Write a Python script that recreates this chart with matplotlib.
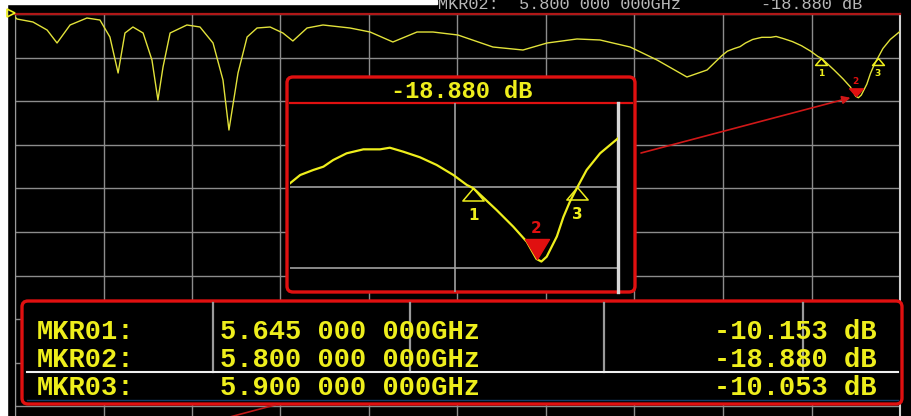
import numpy as np
import matplotlib
matplotlib.use("Agg")
import matplotlib.pyplot as plt
from matplotlib.patches import FancyBboxPatch, Rectangle

# S21 trace, 2-6 GHz sweep
freq_ghz = [2.000, 2.009, 2.081, 2.145, 2.190, 2.249, 2.325, 2.384, 2.429, 2.466,
            2.497, 2.533, 2.579, 2.619, 2.646, 2.669, 2.701, 2.777, 2.836, 2.895,
            2.940, 2.967, 3.008, 3.049, 3.094, 3.153, 3.211, 3.256, 3.320, 3.392,
            3.514, 3.605, 3.708, 3.817, 3.889, 4.002, 4.160, 4.296, 4.405, 4.540,
            4.644, 4.780, 4.902, 5.037, 5.128, 5.195, 5.220, 5.252, 5.277, 5.301,
            5.334, 5.375, 5.416, 5.440, 5.473, 5.514, 5.555, 5.596, 5.629, 5.645,
            5.702, 5.743, 5.776, 5.800, 5.812, 5.825, 5.850, 5.866, 5.882, 5.900,
            5.923, 5.956, 6.000]
trace_db = [-0.69, -1.15, -1.83, -3.67, -6.65, -2.52, -0.92, -1.38, -5.28, -13.53,
            -4.36, -2.98, -4.36, -10.55, -19.72, -12.16, -4.36, -2.52, -2.98, -6.65,
            -15.14, -26.61, -13.53, -5.28, -3.21, -2.98, -4.36, -6.19, -3.21, -2.52,
            -3.21, -4.13, -6.42, -4.13, -4.13, -4.82, -7.57, -8.26, -6.65, -5.73,
            -5.96, -7.57, -10.55, -14.45, -12.84, -9.54, -8.52, -7.90, -7.49, -6.67,
            -5.84, -5.35, -5.35, -5.15, -5.64, -6.33, -7.28, -8.52, -9.75, -10.153,
            -12.84, -14.90, -16.75, -18.88, -19.20, -18.60, -16.10, -13.70, -11.80, -10.053,
            -7.90, -5.84, -3.99]

# markers
marker_ids = [1, 2, 3]
marker_freq = [5.645, 5.800, 5.900]
marker_db = [-10.153, -18.880, -10.053]
active_marker = 2

W, H = 911, 416
YELLOW = "#eeee1c"
TRACE = "#e2e23a"
RED = "#e01010"
GRID = "#8c8c8c"
MONO = "Liberation Mono"

fig = plt.figure(figsize=(W / 100, H / 100), dpi=100, facecolor="black")


def box(x0, y0, x1, y1):
    # pixel box (top-left origin) -> figure fraction rect
    return [x0 / W, 1 - y1 / H, (x1 - x0) / W, (y1 - y0) / H]


def tri(up, w, h):
    # triangle marker with its tip on the data point
    s = 1 if up else -1
    return [(0, 0), (-w, -s * h), (w, -s * h), (0, 0)]


def freq_text(f):
    s = f"{f:.9f}"
    return f"{s[:5]} {s[5:8]} {s[8:]}GHz"


def draw_markers(a, scale, lab_size, lab_off):
    for n, f, d in zip(marker_ids, marker_freq, marker_db):
        if n == active_marker:
            a.plot(f, d, marker=tri(False, 0.6 if scale > 15 else 0.9, 1.0),
                   ms=scale * (1.6 if scale > 15 else 1.1), mfc=RED, mec=RED, zorder=5)
            a.annotate(str(n), (f, d), xytext=(0, lab_off[1]), textcoords="offset points",
                       ha="center", va="center", color=RED, fontsize=lab_size,
                       fontweight="bold", zorder=6)
        else:
            a.plot(f, d, marker=tri(True, 0.85, 1.0), ms=scale, mfc="none",
                   mec=YELLOW, mew=1.1, zorder=5)
            a.annotate(str(n), (f, d), xytext=(0, lab_off[0]), textcoords="offset points",
                       ha="center", va="center", color=YELLOW, fontsize=lab_size,
                       fontweight="bold", zorder=6)


# main screen: 10 dB/div, 0.4 GHz/div
ax = fig.add_axes(box(15, 14, 900, 416))
ax.set_facecolor("black")
ax.plot(freq_ghz, trace_db, color=TRACE, lw=1.0, zorder=3)
ax.set_xlim(2.0, 6.0)
ax.set_ylim(-92.2, 0)
ax.set_xticks(np.arange(2.0, 6.01, 0.4))
ax.set_yticks(np.arange(-90, 1, 10))
ax.grid(color=GRID, lw=1.0)
ax.tick_params(length=0, labelbottom=False, labelleft=False)
ax.spines["top"].set_color("#b01818")
ax.spines["top"].set_linewidth(1.6)
ax.spines["left"].set_color("#9a9a9a")
ax.spines["right"].set_color("#cfcfcf")
ax.spines["right"].set_linewidth(1.5)
ax.spines["bottom"].set_visible(False)
draw_markers(ax, 10, 6.5, (-11, 11))

# overlay in pixel coordinates for boxes and readouts
ov = fig.add_axes([0, 0, 1, 1], zorder=2)
ov.set_xlim(0, W)
ov.set_ylim(H, 0)
ov.axis("off")
ov.patch.set_alpha(0)

ov.add_patch(Rectangle((0, 0), 7, H, color="white", zorder=1))
ov.add_patch(Rectangle((0, 0), 437, 4, color="white", zorder=1))
ov.plot(11, 13, marker=">", ms=6, mfc="none", mec=YELLOW, mew=1.2)

ov.text(438, 9, "MKR02:  " + freq_text(marker_freq[1]), family=MONO, fontsize=12.2,
        color="#b8b8b8", va="baseline")
ov.text(862, 9, f"{marker_db[1]:.3f} dB", family=MONO, fontsize=12.2,
        color="#b8b8b8", va="baseline", ha="right")

# zoom window frame
ov.add_patch(FancyBboxPatch((287, 77), 348, 215, boxstyle="round,pad=0,rounding_size=6",
                            fc="black", ec=RED, lw=2.4, zorder=2))
ov.plot([290, 632], [103, 103], color=RED, lw=1.6, zorder=3)
ov.text(462, 92, f"{marker_db[1]:.3f} dB", family=MONO, fontweight="bold", fontsize=17,
        color=YELLOW, ha="center", va="center", zorder=4)

# arrow from zoom window to active marker
ov.annotate("", xy=(marker_freq[1], marker_db[1]), xycoords=ax.transData,
            xytext=(641, 153), textcoords="data",
            arrowprops=dict(arrowstyle="-|>", color="#d01818", lw=1.2,
                            shrinkA=0, shrinkB=4, mutation_scale=12), zorder=3)

# marker table
ov.add_patch(FancyBboxPatch((22, 301), 880, 103, boxstyle="round,pad=0,rounding_size=6",
                            fc="black", ec=RED, lw=2.4, zorder=2))
ov.plot([275, 226], [405, 418], color="#c01818", lw=1.2, zorder=2)
for xs in [213, 410, 604, 803]:
    ov.plot([xs, xs], [303, 372], color="#9a9a9a", lw=1.6, zorder=3)
ov.plot([27, 898], [372, 372], color="#f0f0f0", lw=1.5, zorder=3)
ov.plot([27, 898], [400, 400], color="#123c6a", lw=1.0, zorder=3)

# one multi-line text per column, last row's baseline at y=395
kw = dict(family=MONO, fontweight="bold", fontsize=19.5, color=YELLOW,
          va="baseline", linespacing=1.09, zorder=4)
ov.text(37, 395, "\n".join(f"MKR{n:02d}:" for n in marker_ids), **kw)
ov.text(220, 395, "\n".join(freq_text(f) for f in marker_freq), **kw)
ov.text(877, 395, "\n".join(f"{d:.3f} dB" for d in marker_db), ha="right",
        multialignment="right", **kw)

# zoomed view of the marker region
ax_in = fig.add_axes(box(290, 103, 618, 292), zorder=3)
ax_in.patch.set_alpha(0)
ax_in.plot(freq_ghz, trace_db, color=YELLOW, lw=1.6, zorder=3)
ax_in.set_xlim(5.195, 6.0)
ax_in.set_ylim(-22.96, 0.37)
ax_in.set_xticks([5.6])
ax_in.set_yticks([-10, -20])
ax_in.grid(color="#a0a0a0", lw=1.2)
ax_in.tick_params(length=0, labelbottom=False, labelleft=False)
for side in ["top", "left", "bottom"]:
    ax_in.spines[side].set_visible(False)
ax_in.spines["right"].set_color("#d8d8d8")
ax_in.spines["right"].set_linewidth(2.4)
draw_markers(ax_in, 18, 11, (-19.5, 22))

fig.savefig("out.png", dpi=100, facecolor=fig.get_facecolor())
